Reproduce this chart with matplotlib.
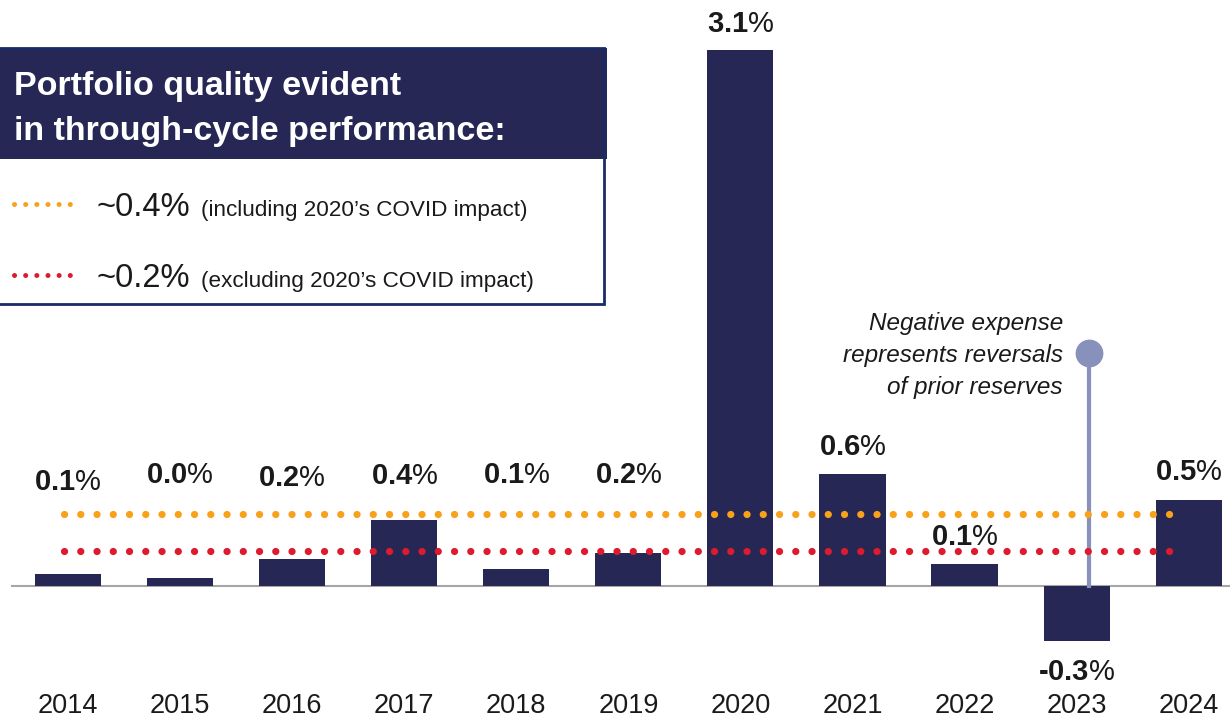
import matplotlib.pyplot as plt
from matplotlib.patches import Rectangle

plt.rcParams['font.family'] = ['Liberation Sans', 'DejaVu Sans']
plt.rcParams['mathtext.fontset'] = 'custom'
plt.rcParams['mathtext.bf'] = 'Liberation Sans:bold'
plt.rcParams['mathtext.rm'] = 'Liberation Sans'

# data
years = ['2014', '2015', '2016', '2017', '2018', '2019', '2020', '2021', '2022', '2023', '2024']
values = [0.07, 0.045, 0.153, 0.38, 0.097, 0.188, 3.1, 0.647, 0.126, -0.318, 0.494]
value_labels = ['0.1', '0.0', '0.2', '0.4', '0.1', '0.2', '3.1', '0.6', '0.1', '\u20100.3', '0.5']
avg_incl = 0.413
avg_excl = 0.199

# layout: baseline of each value label (data units)
label_y = [0.554, 0.594, 0.577, 0.589, 0.594, 0.594, 3.204, 0.756, 0.235, -0.546, 0.612]

navy = '#262754'
orange = '#F9A11B'
red = '#DE1A2E'
stem_col = '#8791BC'

fig = plt.figure(figsize=(12.3, 7.17), dpi=100)
ax = fig.add_axes([0, 0, 1, 1])
ax.set_xlim(-0.607, 10.369)
ax.set_ylim(-0.760, 3.389)
ax.axis('off')

x = list(range(len(years)))
ax.axhline(0, xmin=12 / 1230, xmax=1, color='#A6A6A6', lw=1.5, zorder=1)
ax.bar(x, values, width=0.59, color=navy, zorder=2)

# through-cycle averages
ax.plot([-0.04, 9.91], [avg_incl, avg_incl], color=orange, lw=5.2,
        linestyle=(0, (0.01, 2.24)), dash_capstyle='round', zorder=3)
ax.plot([-0.04, 9.91], [avg_excl, avg_excl], color=red, lw=5.2,
        linestyle=(0, (0.01, 2.24)), dash_capstyle='round', zorder=3)

for xi, lab, ly in zip(x, value_labels, label_y):
    ax.text(xi, ly, r'$\mathbf{' + lab + '}$%', ha='center', va='baseline',
            fontsize=21, color='#1a1a1a', zorder=4)

for xi, yr in zip(x, years):
    ax.text(xi, -0.735, yr, ha='center', va='baseline', fontsize=19.5, color='#1a1a1a')

# callout for 2023
ax.plot([9.113, 9.113], [0, 1.345], color=stem_col, lw=3, zorder=2)
ax.plot([9.113], [1.345], marker='o', ms=19, color=stem_col, zorder=3)
note = ['Negative expense', 'represents reversals', 'of prior reserves']
for i, line in enumerate(note):
    ax.text(8.878, 1.480 - i * 0.185, line, ha='right', va='baseline',
            fontsize=17.5, style='italic', color='#1a1a1a')

# title box
fig.patches.append(Rectangle((0, 1 - 159 / 717), 607 / 1230, 111 / 717,
                             transform=fig.transFigure, facecolor=navy, edgecolor='none', zorder=5))
fig.patches.append(Rectangle((-0.01, 1 - 304 / 717), 616 / 1230, 256 / 717,
                             transform=fig.transFigure, facecolor='none', edgecolor='#1B2B66',
                             lw=2, zorder=6))
fig.text(14 / 1230, 1 - 95 / 717, 'Portfolio quality evident', color='white',
         fontsize=24.5, fontweight='bold', va='baseline', zorder=7)
fig.text(14 / 1230, 1 - 140 / 717, 'in through-cycle performance:', color='white',
         fontsize=24.5, fontweight='bold', va='baseline', zorder=7)

legend_rows = [(orange, '~0.4%', '(including 2020\u2019s COVID impact)', 204, 216),
               (red, '~0.2%', '(excluding 2020\u2019s COVID impact)', 275, 287)]
for col, big, small, ly, by in legend_rows:
    fig.lines.append(plt.Line2D([14 / 1230, 72 / 1230], [1 - ly / 717, 1 - ly / 717],
                                transform=fig.transFigure, color=col, lw=3.6,
                                linestyle=(0, (0.01, 2.22)), dash_capstyle='round'))
    fig.text(97 / 1230, 1 - by / 717, big, fontsize=23.5, va='baseline', color='#1a1a1a')
    fig.text(201 / 1230, 1 - by / 717, small, fontsize=16.2, va='baseline', color='#1a1a1a')

fig.savefig('out.png', dpi=100)
